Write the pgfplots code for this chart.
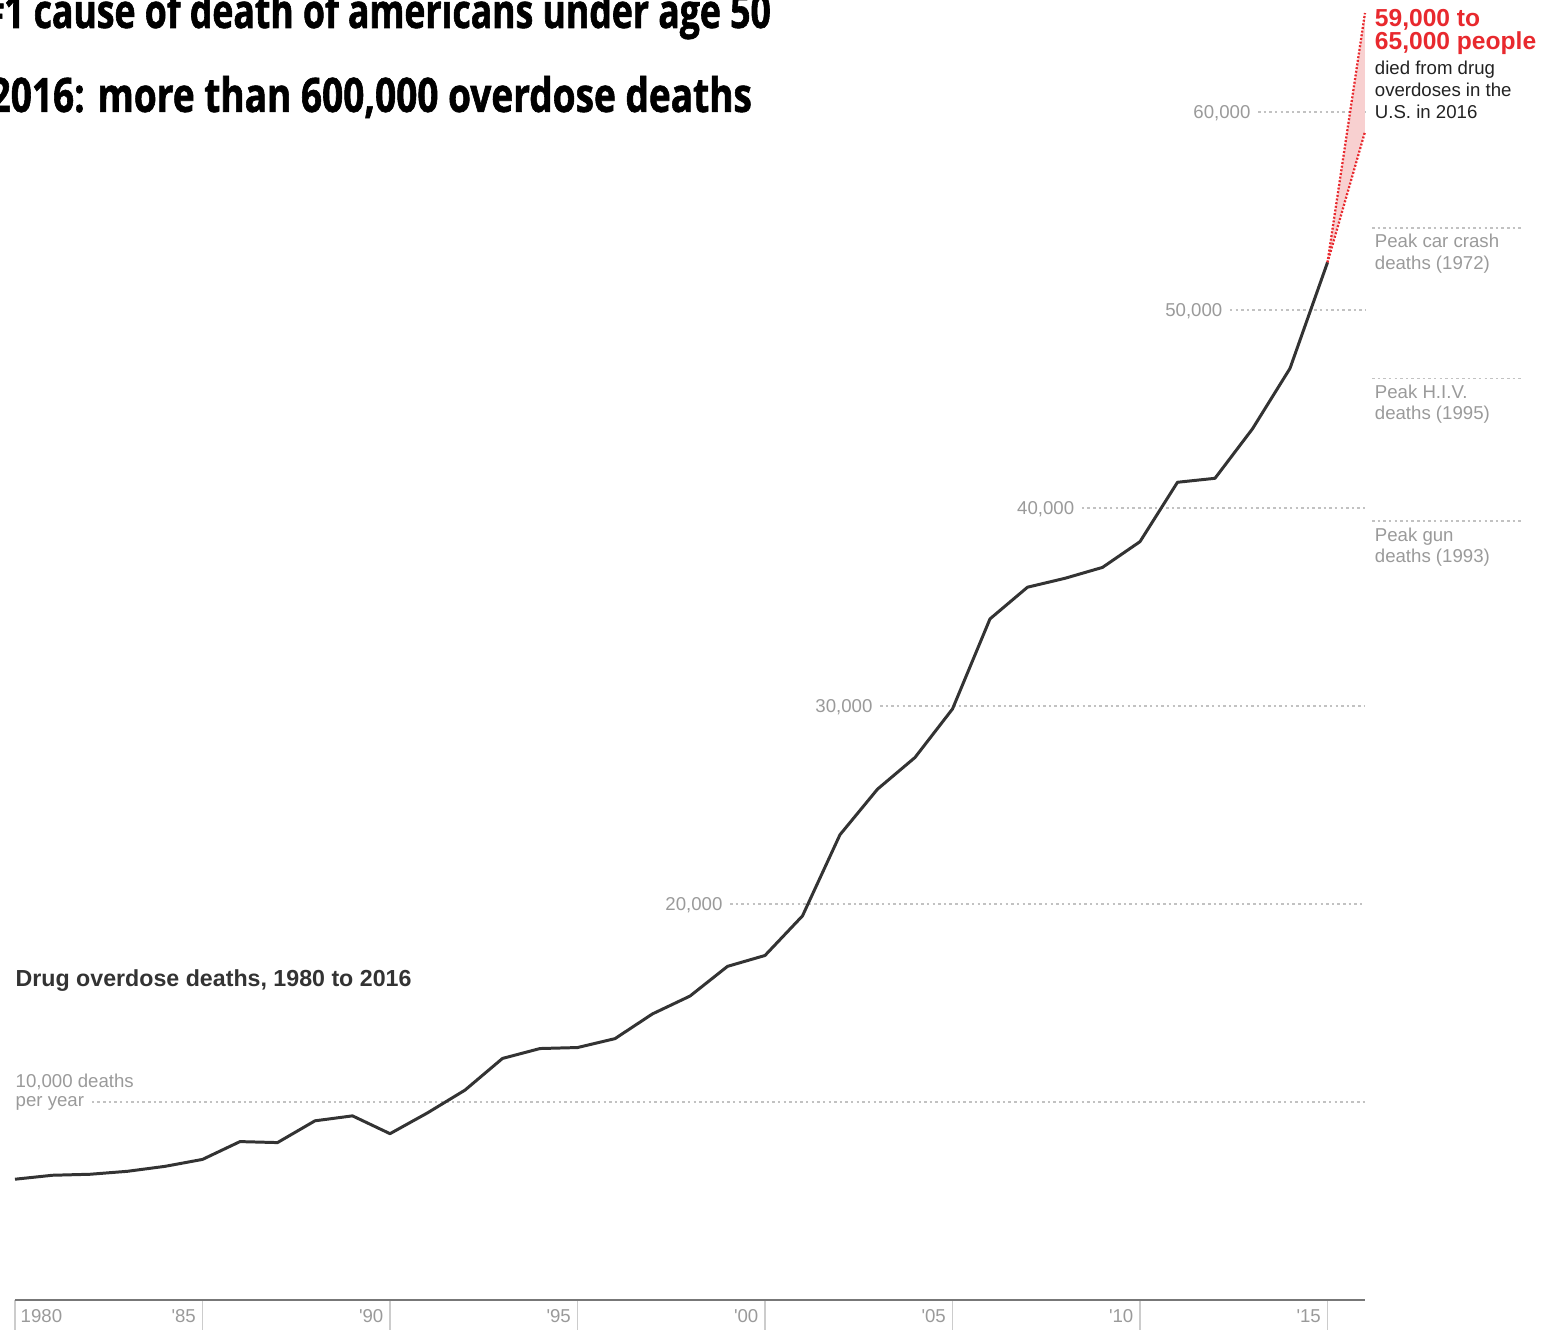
\documentclass[border=0pt]{standalone}
\usepackage{fontspec}
\setmainfont{Liberation Sans}
\newfontfamily\titlefontA[FakeStretch=0.75,FakeBold=1.2]{Open Sans}
\newfontfamily\titlefontB[FakeStretch=0.78,FakeBold=1.2]{Open Sans}
\usepackage{pgfplots}
\pgfplotsset{compat=1.18}
\definecolor{linec}{HTML}{333333}
\definecolor{lab}{HTML}{9A9A9A}
\definecolor{gridc}{HTML}{C2C2C2}
\definecolor{axc}{HTML}{777777}
\definecolor{tickc}{HTML}{CCCCCC}
\definecolor{redc}{HTML}{E8292E}
\definecolor{pinkc}{HTML}{F8D0D0}
\definecolor{txtc}{HTML}{222222}
\newcommand{\labfont}{\fontsize{5.3}{6}\selectfont}
\tikzset{ticklab/.style={anchor=east, inner sep=0pt, lab, font=\labfont, xshift=-0.06cm, yshift=-0.16cm},
  glab/.style={anchor=base east, inner sep=0pt, lab, font=\labfont, xshift=-0.07cm, yshift=-0.065cm},
  gline/.style={gridc, line width=0.45pt, dash pattern=on 0.7pt off 0.9pt}}
\begin{document}
\begin{tikzpicture}
\begin{axis}[
  scale only axis, width=13.5cm, height=12.87cm,
  xmin=1980, xmax=2016, ymin=0, ymax=65000,
  axis y line=none,
  axis x line=bottom,
  x axis line style={draw=axc, line width=0.8pt, -},
  xtick={1980,1985,...,2015},
  xticklabels={},
  ytick=\empty,
  major tick length=0.3cm,
  tick align=outside,
  xtick style={draw=tickc, line width=0.45pt},
  clip=false,
]
% grid lines
\draw[gline] (axis cs:1982.05,10000) -- (axis cs:2016,10000);
\draw[gline] (axis cs:1999.07,20000) -- (axis cs:2016,20000);
\draw[gline] (axis cs:2003.07,30000) -- (axis cs:2016,30000);
\draw[gline] (axis cs:2008.45,40000) -- (axis cs:2016,40000);
\draw[gline] (axis cs:2012.4,50000) -- (axis cs:2016,50000);
\draw[gline] (axis cs:2013.15,60000) -- (axis cs:2016,60000);
% peak reference lines
\draw[gline] (axis cs:2016.19,54150) -- (axis cs:2020.21,54150);
\draw[gline] (axis cs:2016.19,46550) -- (axis cs:2020.21,46550);
\draw[gline] (axis cs:2016.19,39350) -- (axis cs:2020.21,39350);
% grid labels
\node[glab] at (axis cs:1999.07,20000) {20,000};
\node[glab] at (axis cs:2003.07,30000) {30,000};
\node[glab] at (axis cs:2008.45,40000) {40,000};
\node[glab] at (axis cs:2012.4,50000) {50,000};
\node[glab] at (axis cs:2013.15,60000) {60,000};
% x tick labels
\node[anchor=west, inner sep=0pt, lab, font=\labfont, xshift=0.05cm, yshift=-0.16cm] at (axis cs:1980,0) {1980};
\node[ticklab] at (axis cs:1985,0) {\textquotesingle 85};
\node[ticklab] at (axis cs:1990,0) {\textquotesingle 90};
\node[ticklab] at (axis cs:1995,0) {\textquotesingle 95};
\node[ticklab] at (axis cs:2000,0) {\textquotesingle 00};
\node[ticklab] at (axis cs:2005,0) {\textquotesingle 05};
\node[ticklab] at (axis cs:2010,0) {\textquotesingle 10};
\node[ticklab] at (axis cs:2015,0) {\textquotesingle 15};
% 2016 estimate range
\addplot[fill=pinkc, draw=none] coordinates {(2015,52400) (2016,65000) (2016,59000)} -- cycle;
\addplot[redc, line width=0.65pt, dash pattern=on 0.55pt off 0.5pt] coordinates {(2015,52400) (2016,65000)};
\addplot[redc, line width=0.65pt, dash pattern=on 0.55pt off 0.5pt] coordinates {(2015,52400) (2016,59000)};
% main series
\addplot[linec, line width=0.85pt, line join=round, mark=none] coordinates {
(1980,6100)(1981,6300)(1982,6350)(1983,6500)(1984,6750)(1985,7100)
(1986,8000)(1987,7950)(1988,9050)(1989,9300)(1990,8400)(1991,9450)
(1992,10600)(1993,12200)(1994,12700)(1995,12750)(1996,13200)(1997,14450)
(1998,15350)(1999,16850)(2000,17400)(2001,19400)(2002,23500)(2003,25800)
(2004,27400)(2005,29850)(2006,34400)(2007,36000)(2008,36450)(2009,37000)
(2010,38300)(2011,41300)(2012,41500)(2013,44000)(2014,47050)(2015,52400)};
\end{axis}
\begin{scope}[x=0.01cm, y=-0.01cm, xshift=-0.15cm, yshift=13cm]
% titles
\node[anchor=base east, inner sep=0pt, font=\titlefontA\bfseries\fontsize{13.5}{16}\selectfont] at (772,28) {\#1 cause of death of americans under age 50};
\node[anchor=base east, inner sep=0pt, font=\titlefontB\bfseries\fontsize{13.5}{16}\selectfont] at (753,112) {2016: more than 600,000 overdose deaths};
% chart title
\node[anchor=base west, inner sep=0pt, text=linec, font=\bfseries\fontsize{6.6}{8}\selectfont] at (15,987) {Drug overdose deaths, 1980 to 2016};
% 10,000 label
\node[anchor=base west, inner sep=0pt, lab, font=\labfont] at (15,1088) {10,000 deaths};
\node[anchor=base west, inner sep=0pt, lab, font=\labfont] at (15,1107) {per year};
% red annotation
\node[anchor=base west, inner sep=0pt, redc, font=\bfseries\fontsize{7}{8}\selectfont] at (1375,27) {59,000 to};
\node[anchor=base west, inner sep=0pt, redc, font=\bfseries\fontsize{7}{8}\selectfont] at (1375,50) {65,000 people};
\node[anchor=base west, inner sep=0pt, txtc, font=\labfont] at (1375,75) {died from drug};
\node[anchor=base west, inner sep=0pt, txtc, font=\labfont] at (1375,97) {overdoses in the};
\node[anchor=base west, inner sep=0pt, txtc, font=\labfont] at (1375,119) {U.S. in 2016};
% peak labels
\node[anchor=base west, inner sep=0pt, lab, font=\labfont] at (1375,248) {Peak car crash};
\node[anchor=base west, inner sep=0pt, lab, font=\labfont] at (1375,270) {deaths (1972)};
\node[anchor=base west, inner sep=0pt, lab, font=\labfont] at (1375,399) {Peak H.I.V.};
\node[anchor=base west, inner sep=0pt, lab, font=\labfont] at (1375,420) {deaths (1995)};
\node[anchor=base west, inner sep=0pt, lab, font=\labfont] at (1375,542) {Peak gun};
\node[anchor=base west, inner sep=0pt, lab, font=\labfont] at (1375,563) {deaths (1993)};
\end{scope}
\pgfresetboundingbox
\path[use as bounding box] (-0.15cm,-0.30cm) rectangle (15.34cm,13.00cm);
\end{tikzpicture}
\end{document}
